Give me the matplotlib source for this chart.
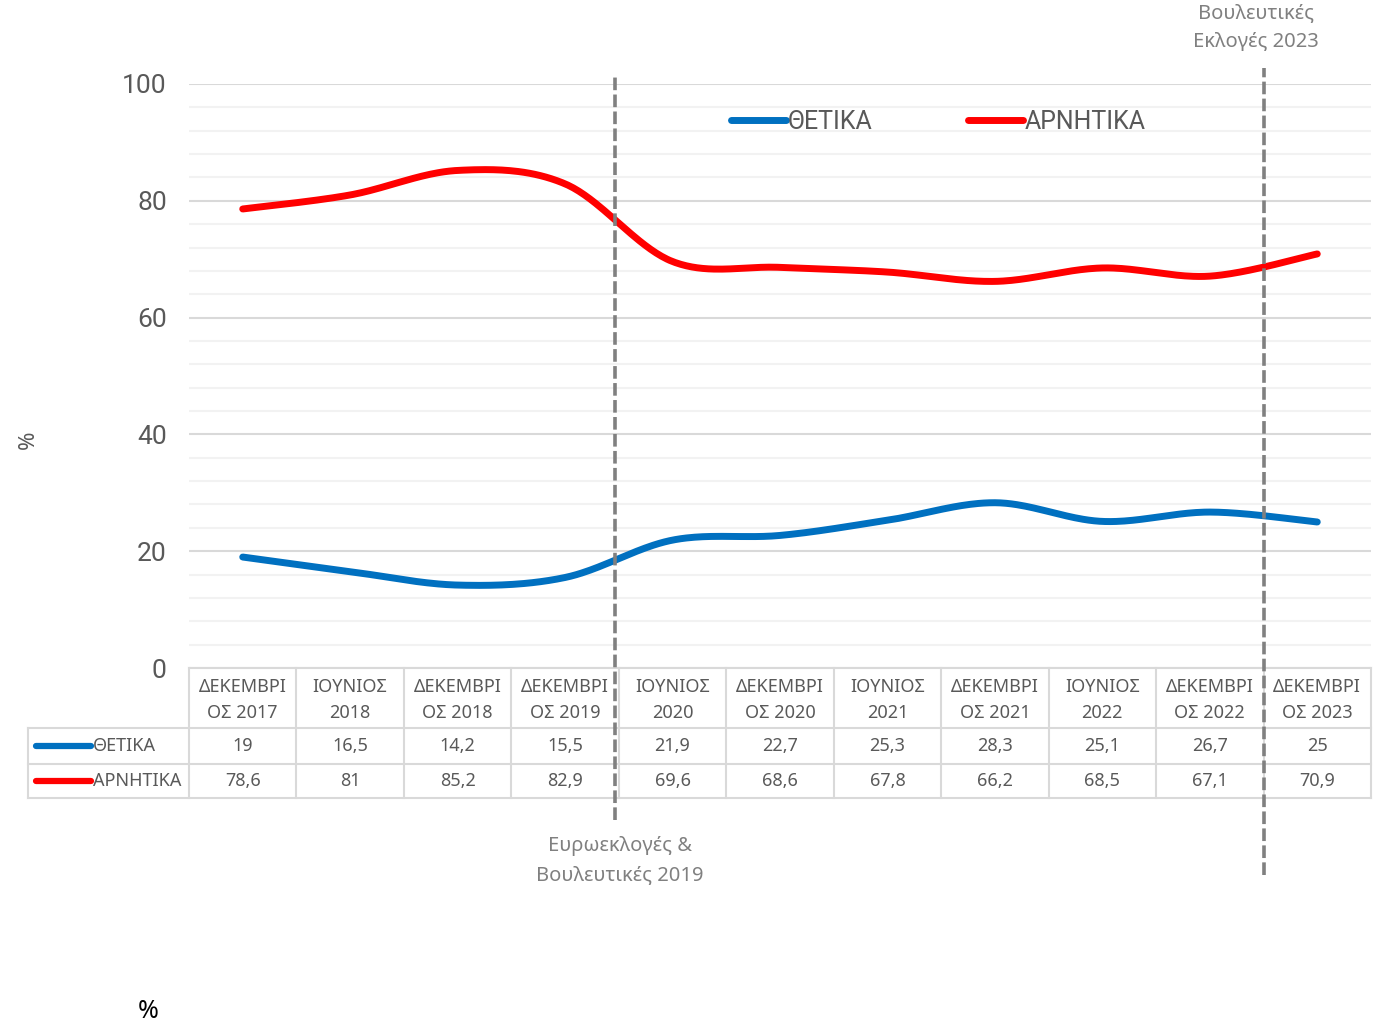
import numpy as np
import matplotlib.pyplot as plt
import matplotlib.transforms as mtransforms
from matplotlib import font_manager

# survey rounds (table header) and the two series
periods = ['ΔΕΚΕΜΒΡΙ\nΟΣ 2017', 'ΙΟΥΝΙΟΣ\n2018', 'ΔΕΚΕΜΒΡΙ\nΟΣ 2018', 'ΔΕΚΕΜΒΡΙ\nΟΣ 2019',
           'ΙΟΥΝΙΟΣ\n2020', 'ΔΕΚΕΜΒΡΙ\nΟΣ 2020', 'ΙΟΥΝΙΟΣ\n2021', 'ΔΕΚΕΜΒΡΙ\nΟΣ 2021',
           'ΙΟΥΝΙΟΣ\n2022', 'ΔΕΚΕΜΒΡΙ\nΟΣ 2022', 'ΔΕΚΕΜΒΡΙ\nΟΣ 2023']
positive = [19, 16.5, 14.2, 15.5, 21.9, 22.7, 25.3, 28.3, 25.1, 26.7, 25]
negative = [78.6, 81, 85.2, 82.9, 69.6, 68.6, 67.8, 66.2, 68.5, 67.1, 70.9]
series_names = ['ΘΕΤΙΚΑ', 'ΑΡΝΗΤΙΚΑ']
series_colors = ['#0070C0', '#FF0000']

# election markers: position between rounds and label
events = [(3.46, 'Ευρωεκλογές &\nΒουλευτικές 2019'), (9.5, 'Βουλευτικές\nΕκλογές 2023')]

installed = {f.name for f in font_manager.fontManager.ttflist}
NARROW = [f for f in ['Liberation Sans Narrow', 'DejaVu Sans Condensed', 'Roboto'] if f in installed] + ['DejaVu Sans']
SANS = ['Noto Sans', 'DejaVu Sans']
GRAY_TXT = '#595959'
GRID = '#D9D9D9'


def fmt(v):
    return ('%g' % v).replace('.', ',')


def smooth(values, n=40):
    # Excel-like smoothed line (cubic bezier, catmull-rom control points)
    pts = np.column_stack([np.arange(len(values)), np.asarray(values, float)])
    out = []
    for i in range(len(pts) - 1):
        p0 = pts[i - 1] if i > 0 else pts[i]
        p1, p2 = pts[i], pts[i + 1]
        p3 = pts[i + 2] if i + 2 < len(pts) else pts[i + 1]
        c1 = p1 + (p2 - p0) / 6
        c2 = p2 - (p3 - p1) / 6
        t = np.linspace(0, 1, n)[:, None]
        seg = (1 - t) ** 3 * p1 + 3 * (1 - t) ** 2 * t * c1 + 3 * (1 - t) * t ** 2 * c2 + t ** 3 * p2
        out.append(seg if i == 0 else seg[1:])
    out = np.vstack(out)
    return out[:, 0], out[:, 1]


fig = plt.figure(figsize=(13.8, 10.23), dpi=100)
ax = fig.add_axes([189 / 1380, 1 - 668 / 1023, 1182 / 1380, 584 / 1023])

n = len(periods)
ax.set_xlim(-0.5, n - 0.5)
ax.set_ylim(0, 100)
ax.set_yticks(range(0, 101, 20))
ax.set_yticks(range(0, 101, 4), minor=True)
ax.grid(axis='y', which='major', color=GRID, linewidth=1.5)
ax.grid(axis='y', which='minor', color='#F2F2F2', linewidth=1.5)
ax.set_axisbelow(True)
ax.set_xticks([])
ax.tick_params(axis='y', which='both', length=0, pad=16, labelsize=19, labelcolor=GRAY_TXT)
for lab in ax.get_yticklabels():
    lab.set_fontfamily(NARROW)
for s in ['left', 'right', 'top']:
    ax.spines[s].set_visible(False)
ax.spines['bottom'].set_color(GRID)
ax.spines['bottom'].set_linewidth(1.5)

for vals, name, col in zip([positive, negative], series_names, series_colors):
    xs, ys = smooth(vals)
    ax.plot(xs, ys, color=col, linewidth=5, solid_capstyle='round', label=name, zorder=3)

leg = ax.legend(loc='center', bbox_to_anchor=(0.634, 0.935), ncol=2, frameon=False,
                handlelength=2.2, handletextpad=0.08, columnspacing=3.8,
                prop={'family': NARROW, 'size': 18})
for t in leg.get_texts():
    t.set_color(GRAY_TXT)

# data table under the plot
tr = mtransforms.blended_transform_factory(ax.transData, ax.transAxes)
ppx = 1 / 584  # one pixel in axes fraction
rows_y = [0, -60 * ppx, -96 * ppx, -130 * ppx]
lab_left = -2.0
lkw = dict(color=GRID, linewidth=1.5, transform=tr, clip_on=False, zorder=1)
for k in range(n + 1):
    ax.plot([k - 0.5, k - 0.5], [rows_y[0], rows_y[3]], **lkw)
ax.plot([lab_left, lab_left], [rows_y[1], rows_y[3]], **lkw)
for yy in rows_y[1:]:
    ax.plot([lab_left, n - 0.5], [yy, yy], **lkw)

for i, p in enumerate(periods):
    ax.text(i, (rows_y[0] + rows_y[1]) / 2 - 2 * ppx, p, transform=tr, ha='center', va='center',
            fontsize=13, color=GRAY_TXT, family=SANS, linespacing=1.55)
for r, (vals, name, col) in enumerate(zip([positive, negative], series_names, series_colors)):
    yc = (rows_y[r + 1] + rows_y[r + 2]) / 2
    for i, v in enumerate(vals):
        ax.text(i, yc, fmt(v), transform=tr, ha='center', va='center',
                fontsize=13, color=GRAY_TXT, family=SANS)
    ax.plot([lab_left + 0.075, lab_left + 0.585], [yc, yc], color=col, linewidth=4.5,
            solid_capstyle='round', transform=tr, clip_on=False)
    ax.text(lab_left + 0.61, yc, name, transform=tr, ha='left', va='center',
            fontsize=13, color=GRAY_TXT, family=SANS)

# election marker lines and labels: (line top, line bottom, label y, label x shift)
ev_span = [(1 + 9 * ppx, -152 * ppx, -193 * ppx, 0.05), (1 + 16 * ppx, -207 * ppx, 640 * ppx, -0.07)]
for (xv, label), (top, bot, ty, dx) in zip(events, ev_span):
    ax.plot([xv, xv], [bot, top], color='#808080', linewidth=2.6, dashes=(3.5, 1.2),
            transform=tr, clip_on=False, zorder=4)
    ax.text(xv + dx, ty, label, transform=tr, ha='center', va='center', fontsize=14.5,
            color='#808080', family=SANS, linespacing=1.6)

fig.text(28 / 1380, 1 - 440 / 1023, '%', rotation=90, ha='center', va='center',
         fontsize=16, color=GRAY_TXT, family=SANS)
fig.text(148 / 1380, 1 - 1012 / 1023, '%', ha='center', va='center',
         fontsize=18, fontweight='bold', color='black', family=SANS)

fig.savefig('out.png', dpi=100)
